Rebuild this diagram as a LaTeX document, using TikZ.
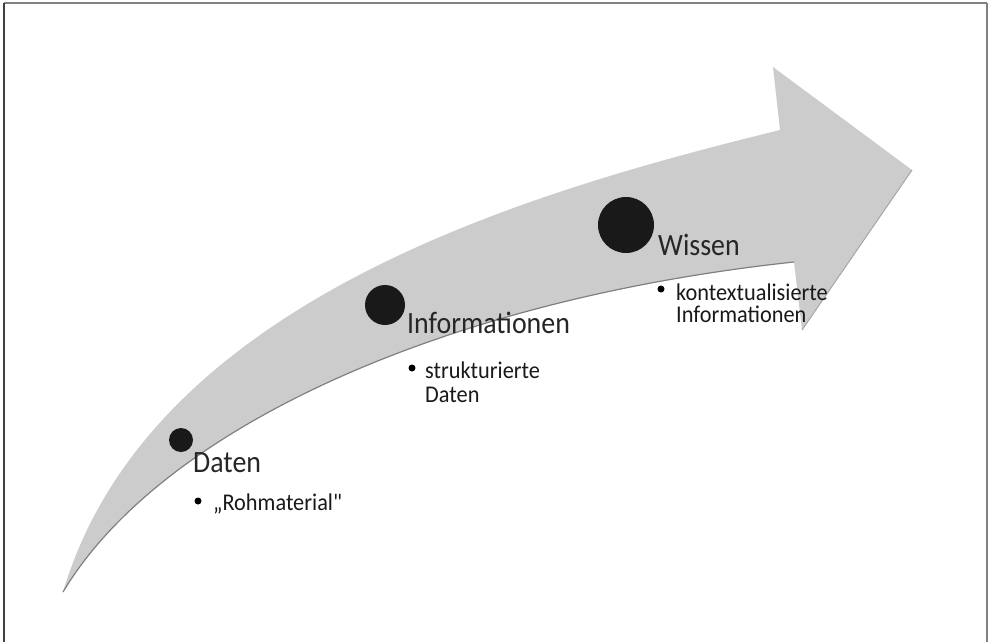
\documentclass[tikz,border=0pt]{standalone}
\usepackage{fontspec}
\setmainfont{Carlito}
\newfontfamily\titlefont[FakeStretch=0.9]{Carlito}
\newfontfamily\itemfont[FakeStretch=0.93]{Carlito}
\begin{document}
\begin{tikzpicture}[x=1pt,y=-1pt,
  arrowfill/.style={fill=black!20},
  edgeline/.style={draw=black!50,line width=1.2pt},
  dot/.style={circle,fill=black!90,inner sep=0pt,minimum size=#1},
  title/.style={anchor=base west,inner sep=0pt,font=\titlefont\fontsize{31}{33}\selectfont,text=black!85},
  item/.style={anchor=base west,inner sep=0pt,font=\itemfont\fontsize{24}{26}\selectfont,text=black!90},
  bul/.style={circle,fill=black,inner sep=0pt,minimum size=7pt},
  frameline/.style={line width=1.5pt}]
\useasboundingbox (0,0) rectangle (988,642);
% frame
\coordinate (fTL) at (4,3);
\coordinate (fTR) at (987,3);
\coordinate (fBL) at (4,642);
\coordinate (fBR) at (987,642);
\draw[frameline,draw=black!50] (fTL) -- (fTR);
\draw[frameline,draw=black!50] (fTR) -- (fBR);
\draw[frameline,draw=black!75] (fTL) -- (fBL);
% arrow
\coordinate (tail) at (63,592);
\coordinate (su) at (780,130);
\coordinate (hu) at (773,67);
\coordinate (tip) at (912,170);
\coordinate (hl) at (802,330);
\coordinate (sl) at (794,262);
\fill[arrowfill] (tail) .. controls (150,300) and (528,192) .. (su)
  -- (hu) -- (tip) -- (hl) -- (sl)
  .. controls (440,300) and (160,430) .. (tail) -- cycle;
\draw[edgeline] (sl) .. controls (440,300) and (160,430) .. (tail);
\draw[draw=black!35,line width=1pt] (tip) -- (hl);
% dots
\node[dot=24pt] (d1) at (181,440) {};
\node[dot=40pt] (d2) at (385,305) {};
\node[dot=56pt] (d3) at (626,225) {};
% titles
\node[title] (t1) at (193,472) {Daten};
\node[title] (t2) at (407,333) {Informationen};
\node[title] (t3) at (658,255) {Wissen};
% bullet items
\node[bul] (b1) at (198,501) {};
\node[item] (i1) at (213,510) {„Rohmaterial"};
\node[bul] (b2) at (412,368) {};
\node[item] (i2a) at (425,378) {strukturierte};
\node[item] (i2b) at (425,402) {Daten};
\node[bul] (b3) at (661,289) {};
\node[item] (i3a) at (676,300) {kontextualisierte};
\node[item] (i3b) at (676,322) {Informationen};
\end{tikzpicture}
\end{document}
